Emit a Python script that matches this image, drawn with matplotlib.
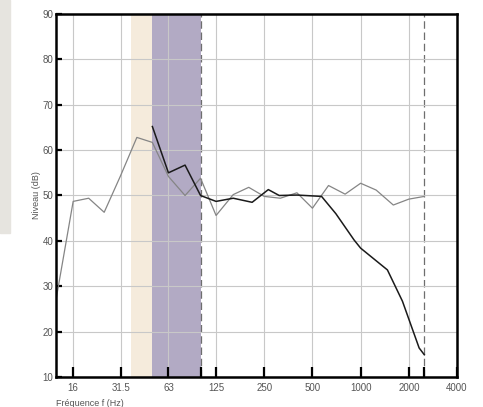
import matplotlib.pyplot as plt
from matplotlib.patches import Rectangle
from matplotlib.ticker import NullFormatter

# --- data ---
freq_grey = [12.5, 16, 20, 25, 31.5, 40, 50, 63, 80, 100, 125, 160, 200, 250,
             315, 400, 500, 630, 800, 1000, 1250, 1600, 2000, 2500]
level_grey = [27.0, 48.7, 49.4, 46.3, 54.2, 62.8, 61.7, 54.2, 50.0, 53.8, 45.6, 50.2,
              51.8, 49.8, 49.4, 50.6, 47.2, 52.2, 50.3, 52.7, 51.2, 47.9, 49.2, 49.8]

freq_black = [50, 63, 80, 100, 125, 160, 210, 265, 310, 400, 570, 700, 910, 1000,
              1470, 1825, 2320, 2500]
level_black = [65.2, 55.0, 56.7, 50.0, 48.7, 49.4, 48.5, 51.3, 50.0, 50.1, 49.8,
               46.0, 40.2, 38.4, 33.6, 26.7, 16.4, 14.9]

band_beige = (37, 50)
band_purple = (50, 100)
dashed_freqs = [100, 2500]

xtick_vals = [16, 32, 63, 125, 250, 500, 1000, 2000, 4000]
xtick_labels = ['16', '31.5', '63', '125', '250', '500', '1000', '2000', '4000']
ytick_vals = [10, 20, 30, 40, 50, 60, 70, 80, 90]

plt.rcParams['font.family'] = ['Liberation Sans', 'DejaVu Sans']

fig = plt.figure(figsize=(4.83, 4.07), dpi=100)
fig.patches.append(Rectangle((0, 1 - 233 / 407), 10 / 483, 233 / 407,
                             transform=fig.transFigure, color='#e6e4df', zorder=0))
ax = fig.add_axes([56 / 483, 30 / 407, 401 / 483, 363 / 407])

ax.set_xscale('log', base=2)
ax.set_xlim(12.5, 4000)
ax.set_ylim(10, 90)

ax.axvspan(*band_beige, color='#f5ebdc', lw=0, zorder=0)
ax.axvspan(*band_purple, color='#b2aac4', lw=0, zorder=0)

ax.grid(True, color='#c8c8c8', lw=0.8, zorder=1)
ax.set_axisbelow(False)

for f in dashed_freqs:
    ax.axvline(f, color='#6e6e6e', lw=0.9, ls=(0, (6, 3)), zorder=2)

ax.plot(freq_grey, level_grey, color='#858585', lw=0.9, zorder=3)
ax.plot(freq_black, level_black, color='#1a1a1a', lw=1.1, zorder=4)

ax.set_xticks(xtick_vals)
ax.set_xticklabels(xtick_labels)
ax.set_xticks(dashed_freqs, minor=True)
ax.xaxis.set_minor_formatter(NullFormatter())
ax.set_yticks(ytick_vals)

ax.tick_params(which='both', direction='in', width=1.6, color='black',
               labelcolor='#555555', labelsize=7)
ax.tick_params(axis='x', which='both', length=7, pad=4)
ax.tick_params(axis='y', length=4.5, pad=2)
ax.xaxis.grid(False, which='minor')

for s in ax.spines.values():
    s.set_linewidth(1.8)
    s.set_color('black')
    s.set_zorder(5)

ax.set_ylabel('Niveau (dB)', color='#555555', fontsize=6.5, labelpad=1)
ax.set_xlabel('Fréquence f (Hz)', color='#555555', fontsize=6.5)
ax.xaxis.set_label_coords(0.0, -0.06)
ax.xaxis.label.set_horizontalalignment('left')

fig.savefig('out.png', dpi=100)
